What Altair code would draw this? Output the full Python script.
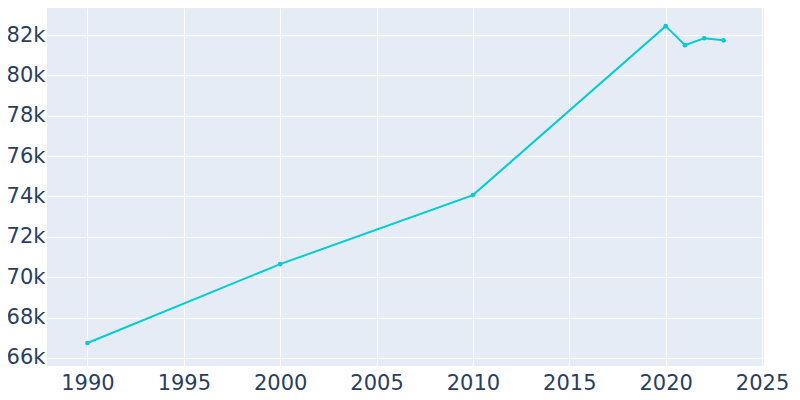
import altair as alt
import pandas as pd

years = [1990, 2000, 2010, 2020, 2021, 2022, 2023]
population = [66740, 70650, 74070, 82440, 81500, 81840, 81740]

x_ticks = [1990, 1995, 2000, 2005, 2010, 2015, 2020, 2025]
y_ticks = [66000, 68000, 70000, 72000, 74000, 76000, 78000, 80000, 82000]

df = pd.DataFrame({"year": years, "population": population})

FONT = "DejaVu Sans"
LABEL_COLOR = "#2a3f5f"

x = alt.X(
    "year:Q",
    scale=alt.Scale(domain=[1987.9, 2025.1], nice=False, zero=False),
    axis=alt.Axis(
        values=x_ticks, format="d", title=None, domain=False, ticks=False,
        gridColor="white", gridWidth=1, labelFontSize=21, labelFont=FONT,
        labelColor=LABEL_COLOR, labelPadding=6, labelFlush=False,
    ),
)
y = alt.Y(
    "population:Q",
    scale=alt.Scale(domain=[65600, 83340], nice=False, zero=False),
    axis=alt.Axis(
        values=y_ticks, labelExpr="format(datum.value/1000, 'd') + 'k'", title=None,
        domain=False, ticks=False, gridColor="white", gridWidth=1,
        labelFontSize=21, labelFont=FONT, labelColor=LABEL_COLOR, labelPadding=2,
        labelFlush=False,
    ),
)

base = alt.Chart(df).encode(x=x, y=y)
line = base.mark_line(color="#00CED1", strokeWidth=2)
points = base.mark_circle(color="#00CED1", size=22, opacity=1)

chart = (
    (line + points)
    .properties(
        width=717,
        height=358,
        autosize=alt.AutoSizeParams(type="none"),
        padding={"left": 39, "top": 0, "right": 28, "bottom": 34},
        background="white",
    )
    .configure_view(fill="#E5ECF6", stroke=None)
)

chart.save("out.html", embed_options={"renderer": "svg", "actions": False})
